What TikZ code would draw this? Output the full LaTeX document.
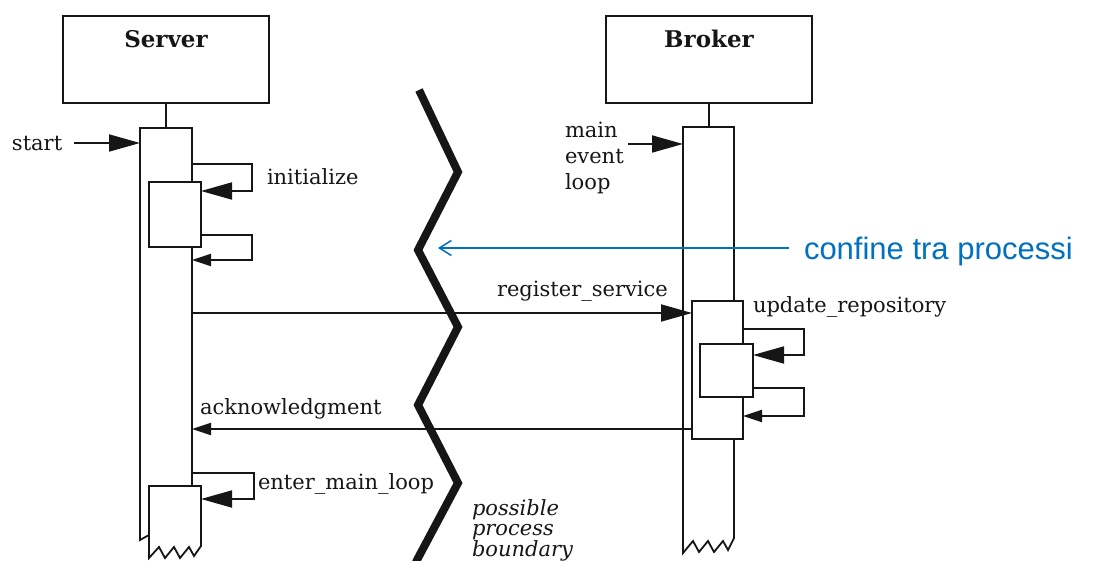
\documentclass[tikz,border=0pt]{standalone}
\usepackage{fontspec}
\setmainfont{DejaVu Serif}
\newfontfamily\notefont{Liberation Sans}
\usetikzlibrary{arrows.meta}
\definecolor{ink}{RGB}{22,22,22}
\definecolor{noteblue}{RGB}{0,112,192}
\tikzset{
  bighead/.tip={Triangle[length=31pt,width=17pt]},
  smallhead/.tip={Triangle[length=19pt,width=12pt]},
}
\begin{document}
\begin{tikzpicture}[x=1pt,y=-1pt,
  every node/.style={inner sep=0pt,outer sep=0pt},
  txt/.style={font=\fontsize{21}{25}\selectfont,text=ink,anchor=base west},
  title/.style={font=\fontsize{23}{27}\selectfont\bfseries,text=ink,anchor=base},
  objbox/.style={draw=ink,line width=2pt,fill=white,minimum width=206pt,minimum height=87pt},
  actbox/.style={draw=ink,line width=1.8pt,fill=white},
  wire/.style={draw=ink,line width=1.8pt},
  call/.style={wire,-bighead},
  reply/.style={wire,-smallhead},
  boundary/.style={draw=ink,line width=8pt,line join=miter},
  note/.style={font=\notefont\fontsize{31}{36}\selectfont,text=noteblue,anchor=base west},
]
\useasboundingbox (0,0) rectangle (1098,561);
\clip (0,0) rectangle (1098,561);
\fill[white] (0,0) rectangle (1098,561);

% ---------- Server ----------
\node[objbox] (srv) at (166,59.5) {};
\node[title] (srvname) at (166,48) {Server};
\coordinate (sbar) at (166,128);
\draw[wire] (srv.south) -- (sbar);
% server activation bar (bottom hidden behind the main-loop box)
\draw[actbox] (149,535) -- (140,540) -- (140,128) -- (192,128) -- (192,490);
% nested activation for initialize
\node[actbox,minimum width=52pt,minimum height=65pt] (init) at (175,214.5) {};
% activation entered by enter_main_loop, with a torn bottom
\draw[actbox] (149,558) -- (149,486) -- (201,486) -- (201,546)
  -- (194,556) -- (189,547) -- (180,558) -- (174,547) -- (165,558)
  -- (159,547) -- cycle;
\coordinate (mainloop) at (201,499);

% ---------- Broker ----------
\node[objbox] (brk) at (709,59.5) {};
\node[title] (brkname) at (709,48) {Broker};
\coordinate (bbar) at (709,127);
\draw[wire] (brk.south) -- (bbar);
\draw[actbox] (683,127) -- (734,127) -- (734,538)
  -- (728,550) -- (723,541) -- (714,552) -- (708,541) -- (699,552)
  -- (693,541) -- (683,553) -- cycle;
\node[actbox,minimum width=51pt,minimum height=138pt] (upd) at (717.5,370) {};
\node[actbox,minimum width=53pt,minimum height=53pt] (rep) at (726.5,370.5) {};

% ---------- entry points ----------
\node[txt] (start) at (12,151) {start};
\draw[call] ([xshift=12pt]start.east |- 0,143) -- (140,143);
\node[txt] (mel1) at (565,138) {main};
\node[txt] (mel2) at (565,164) {event};
\node[txt] (mel3) at (565,190) {loop};
\draw[call] (628,144) -- (683,144);

% ---------- initialize ----------
\draw[call] (192,164) -- (252,164) |- (init.east |- 0,191);
\draw[reply] (init.east |- 0,235) -- (252,235) |- (192,260);
\node[txt] (initlbl) at (267,185) {initialize};

% ---------- register_service / acknowledgment ----------
\draw[call] (192,313) -- (upd.west |- 0,313);
\node[txt] (reglbl) at (497,297) {register\_service};
\draw[reply] (upd.west |- 0,429) -- (192,429);
\node[txt] (acklbl) at (200,414) {acknowledgment};

% ---------- update_repository ----------
\draw[call] (upd.east |- 0,329) -- (804,329) |- (rep.east |- 0,355);
\draw[reply] (rep.east |- 0,388) -- (804,388) |- (upd.east |- 0,416);
\node[txt] (updlbl) at (753,313) {update\_repository};

% ---------- enter_main_loop ----------
\draw[call] (192,473) -- (254,473) |- (mainloop);
\node[txt] (eml) at (258,489) {enter\_main\_loop};

% ---------- process boundary ----------
\draw[boundary] (419,90) -- (458,172) -- (418,250) -- (458,327)
  -- (418,405) -- (458,483) -- (417,560) -- (412,572);
\coordinate (bend) at (438,248);
\node[txt,font=\fontsize{21}{25}\selectfont\itshape] (pb1) at (472,515) {possible};
\node[txt,font=\fontsize{21}{25}\selectfont\itshape] (pb2) at (472,535) {process};
\node[txt,font=\fontsize{21}{25}\selectfont\itshape] (pb3) at (472,556) {boundary};

% ---------- annotation ----------
\node[note] (conf) at (804,260) {confine tra processi};
\draw[noteblue,line width=1.5pt,-{Straight Barb[length=12pt,width=15pt]}]
  ([xshift=-15pt]conf.west |- 0,248) -- (bend);
\end{tikzpicture}
\end{document}
